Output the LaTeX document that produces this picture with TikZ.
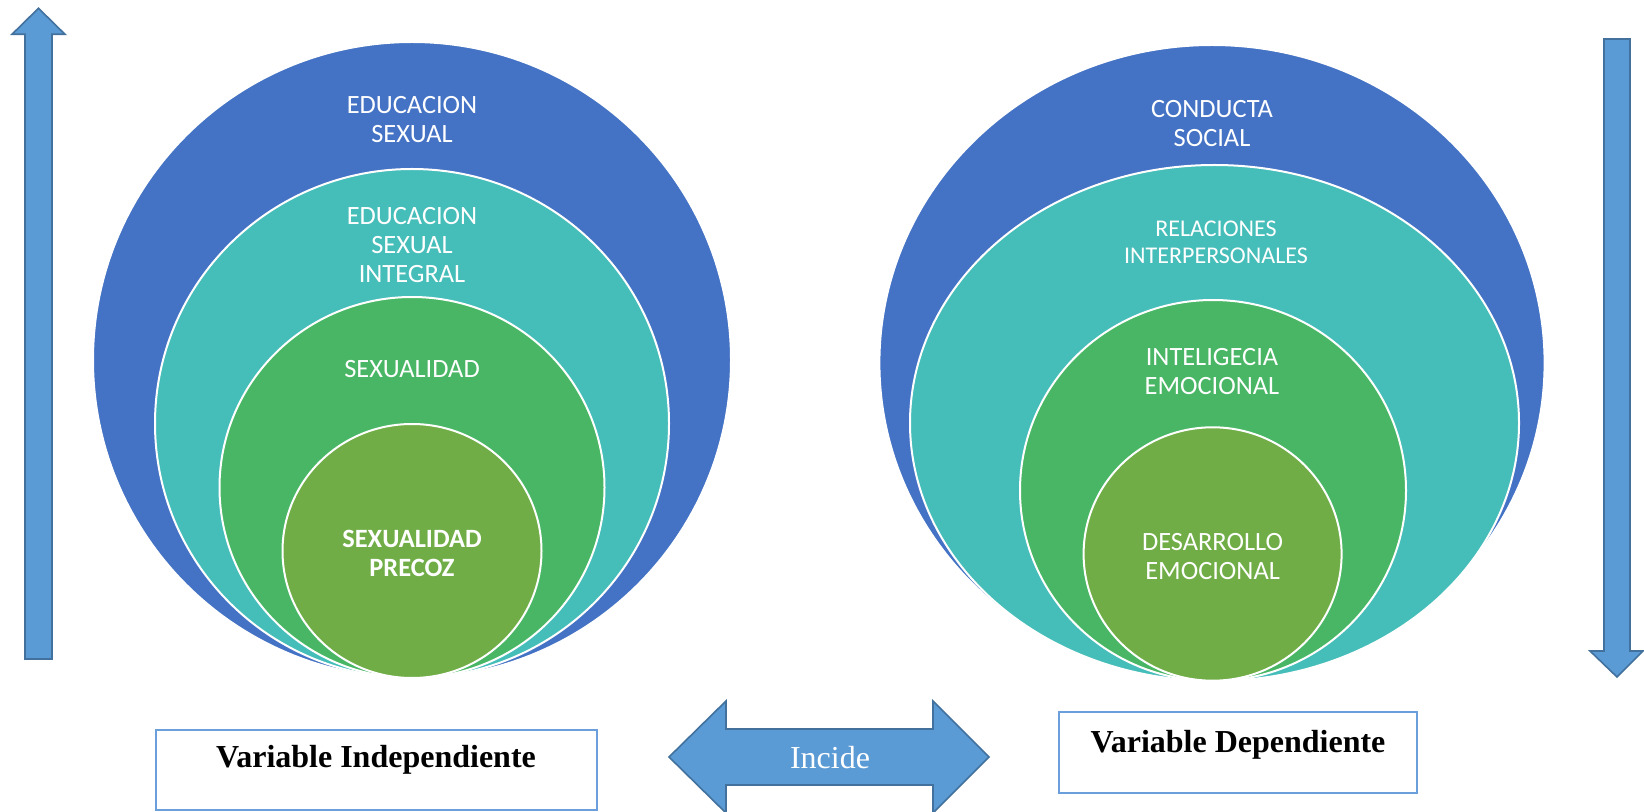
\documentclass[tikz,border=0pt]{standalone}
\usepackage{fontspec}
\setmainfont{Liberation Serif}
\newfontfamily\carl{Carlito}
\usetikzlibrary{shapes.geometric}
\definecolor{cblue}{HTML}{4472C4}
\definecolor{ccyan}{HTML}{45BDB9}
\definecolor{cgreen}{HTML}{48B664}
\definecolor{colive}{HTML}{70AD47}
\definecolor{afill}{HTML}{5B9BD5}
\definecolor{aline}{HTML}{41719C}
\definecolor{boxline}{HTML}{6A9FDB}
\begin{document}
\begin{tikzpicture}[x=0.5pt,y=-0.5pt,
  ring/.style={ellipse, draw=white, line width=1pt, inner sep=0pt},
  ctext/.style={text=white, font=\carl\fontsize{13.2}{14.5}\selectfont, align=center, inner sep=0pt},
  blockarrow/.style={fill=afill, draw=aline, line width=0.8pt, line join=miter},
  varbox/.style={draw=boxline, line width=1pt, fill=white, inner sep=0pt, align=center,
    font=\bfseries\fontsize{16}{19}\selectfont, text height=11pt}
]
\useasboundingbox (0,0) rectangle (1644,812);

% left cluster
\node[ring, fill=cblue,  minimum width=319pt,   minimum height=318pt]   (L1) at (412,360) {};
\node[ring, fill=ccyan,  minimum width=257pt,   minimum height=254.5pt] (L2) at (412,423.5) {};
\node[ring, fill=cgreen, minimum width=192.5pt, minimum height=190.5pt] (L3) at (412,487.5) {};
\node[ring, fill=colive, minimum width=129.5pt, minimum height=127pt]   (L4) at (412,551) {};
\node[ctext] (tL1) at (412,120) {EDUCACION\\SEXUAL};
\node[ctext] (tL2) at (412,245) {EDUCACION\\SEXUAL\\INTEGRAL};
\node[ctext] (tL3) at (412,369) {SEXUALIDAD};
\node[ctext, font=\carl\bfseries\fontsize{13.2}{14.5}\selectfont] (tL4) at (412,553) {SEXUALIDAD\\PRECOZ};

% right cluster
\node[ring, fill=cblue,  minimum width=332.6pt, minimum height=318pt]   (R1) at (1212,363) {};
\node[ring, fill=ccyan,  minimum width=304.5pt, minimum height=258pt]   (R2) at (1214.5,423) {};
\node[ring, fill=cgreen, minimum width=193pt,   minimum height=190.5pt] (R3) at (1213,490.5) {};
\node[ring, fill=colive, minimum width=129pt,   minimum height=126.7pt] (R4) at (1212.6,554) {};
\node[ctext] (tR1) at (1212,124) {CONDUCTA\\SOCIAL};
\node[ctext, font=\carl\fontsize{12}{13.5}\selectfont] (tR2) at (1216,242.5) {RELACIONES\\INTERPERSONALES};
\node[ctext] (tR3) at (1212,372) {INTELIGECIA\\EMOCIONAL};
\node[ctext] (tR4) at (1212.6,557) {DESARROLLO\\EMOCIONAL};

% vertical block arrows
\draw[blockarrow] (38.5,8.3) -- (65,34.3) -- (52,34.3) -- (52,659) -- (25,659) -- (25,34.3) -- (12,34.3) -- cycle;
\draw[blockarrow] (1617,677) -- (1643,651) -- (1630,651) -- (1630,39) -- (1604,39) -- (1604,651) -- (1590,651) -- cycle;

% double arrow
\draw[blockarrow] (669,757) -- (726,701) -- (726,729) -- (933,729) -- (933,701) -- (989,757)
  -- (933,813) -- (933,785) -- (726,785) -- (726,813) -- cycle;
\node[text=white, font=\fontsize{16}{19}\selectfont, inner sep=0pt] (inc) at (830,758) {Incide};

% variable boxes
\node[varbox, minimum width=220.5pt, minimum height=40pt, text depth=14pt] (vi) at (376,770) {Variable Independiente};
\node[varbox, minimum width=178.8pt, minimum height=40.8pt, text depth=11pt] (vd) at (1238,752.5) {Variable Dependiente};
\end{tikzpicture}
\end{document}
